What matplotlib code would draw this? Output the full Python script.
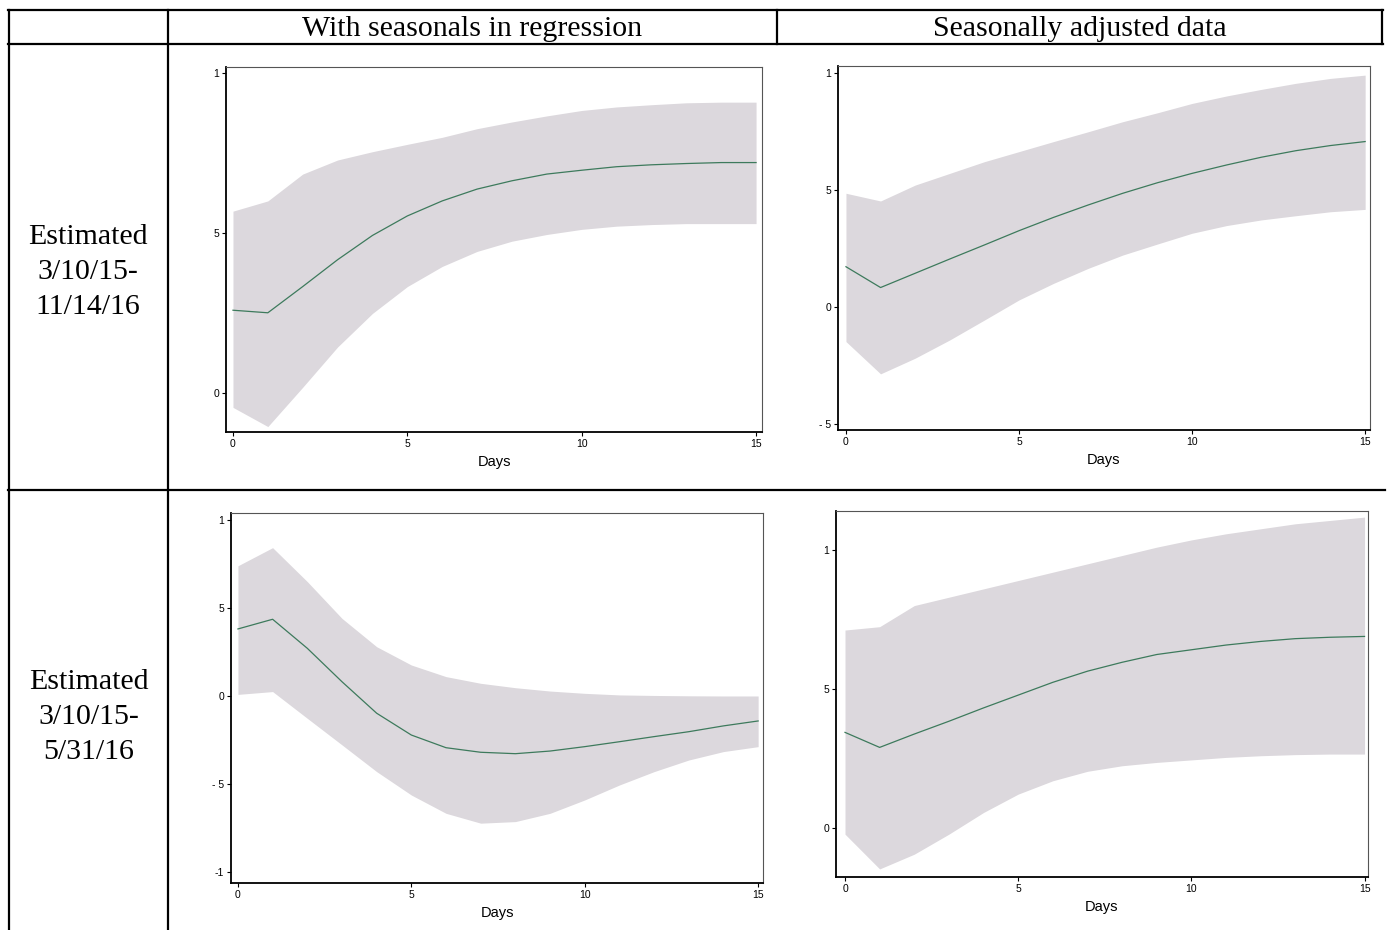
import numpy as np
import matplotlib
matplotlib.use('Agg')
import matplotlib.pyplot as plt
from matplotlib.lines import Line2D

days = np.arange(16)

# top left: with seasonals in regression, 3/10/15-11/14/16
tl_mid = [0.0259, 0.0251, 0.0333, 0.0417, 0.0493, 0.0554, 0.0601, 0.0638,
          0.0664, 0.0685, 0.0697, 0.0708, 0.0714, 0.0718, 0.0721, 0.0721]
tl_hi = [0.0569, 0.0601, 0.0685, 0.0729, 0.0755, 0.0778, 0.0800, 0.0827,
         0.0848, 0.0867, 0.0884, 0.0895, 0.0902, 0.0908, 0.0910, 0.0910]
tl_lo = [-0.0045, -0.0105, 0.0018, 0.0144, 0.0249, 0.0333, 0.0396, 0.0443,
         0.0475, 0.0496, 0.0512, 0.0522, 0.0527, 0.0530, 0.0530, 0.0530]

# top right: seasonally adjusted, 3/10/15-11/14/16
tr_mid = [0.0172, 0.0083, 0.0144, 0.0205, 0.0265, 0.0326, 0.0383, 0.0436,
          0.0486, 0.0531, 0.0571, 0.0607, 0.0640, 0.0668, 0.0690, 0.0707]
tr_hi = [0.0486, 0.0453, 0.0521, 0.0571, 0.0621, 0.0664, 0.0707, 0.0749,
         0.0792, 0.0830, 0.0870, 0.0902, 0.0930, 0.0956, 0.0977, 0.0991]
tr_lo = [-0.0148, -0.0286, -0.0219, -0.0141, -0.0056, 0.0030, 0.0101, 0.0165,
         0.0222, 0.0269, 0.0315, 0.0348, 0.0372, 0.0390, 0.0407, 0.0417]

# bottom left: with seasonals in regression, 3/10/15-5/31/16
bl_mid = [0.0381, 0.0436, 0.0271, 0.0081, -0.0098, -0.0222, -0.0294, -0.0320,
          -0.0328, -0.0313, -0.0288, -0.0260, -0.0231, -0.0203, -0.0170, -0.0142]
bl_hi = [0.0740, 0.0843, 0.0650, 0.0441, 0.0280, 0.0176, 0.0110, 0.0072,
         0.0047, 0.0028, 0.0015, 0.0006, 0.0003, 0.0001, 0.0, 0.0]
bl_lo = [0.0009, 0.0025, -0.0127, -0.0278, -0.0430, -0.0563, -0.0667, -0.0723,
         -0.0714, -0.0667, -0.0591, -0.0506, -0.0430, -0.0364, -0.0316, -0.0288]

# bottom right: seasonally adjusted, 3/10/15-5/31/16
br_mid = [0.0344, 0.0290, 0.0338, 0.0384, 0.0432, 0.0478, 0.0524, 0.0564,
          0.0596, 0.0624, 0.0641, 0.0658, 0.0671, 0.0681, 0.0686, 0.0689]
br_hi = [0.0712, 0.0724, 0.0800, 0.0830, 0.0860, 0.0890, 0.0920, 0.0950,
         0.0980, 0.1010, 0.1036, 0.1058, 0.1076, 0.1094, 0.1106, 0.1118]
br_lo = [-0.0022, -0.0147, -0.0094, -0.0022, 0.0056, 0.0122, 0.0170, 0.0204,
         0.0224, 0.0236, 0.0245, 0.0254, 0.0260, 0.0264, 0.0266, 0.0266]

col_titles = ['With seasonals in regression', 'Seasonally adjusted data']
row_titles = ['Estimated\n3/10/15-\n11/14/16', 'Estimated\n3/10/15-\n5/31/16']

x_ticks = [0, 5, 10, 15]
x_labels = ['0', '5', '10', '15']
y_ticks = [0.1, 0.05, 0, -0.05, -0.1]
y_labels = ['1', '5', '0', '- 5', '-1']

W, H = 1390, 930
fig = plt.figure(figsize=(13.9, 9.3), dpi=100)


def box(l, r, t, b):
    return [l / W, 1 - b / H, (r - l) / W, (b - t) / H]


panels = [
    (box(226, 762, 67, 432), tl_mid, tl_hi, tl_lo, (-0.0122, 0.102), (-0.2, 15.17)),
    (box(838, 1370, 66, 430), tr_mid, tr_hi, tr_lo, (-0.0526, 0.103), (-0.23, 15.14)),
    (box(231, 763, 513, 883), bl_mid, bl_hi, bl_lo, (-0.1063, 0.104), (-0.2, 15.14)),
    (box(836, 1368, 511, 877), br_mid, br_hi, br_lo, (-0.0176, 0.114), (-0.26, 15.1)),
]

for rect, mid, hi, lo, ylim, xlim in panels:
    ax = fig.add_axes(rect)
    ax.fill_between(days, lo, hi, color='#dcd8dd', linewidth=0)
    ax.plot(days, mid, color='#3d7a5c', lw=0.9)
    ax.set_xlim(xlim)
    ax.set_ylim(ylim)
    ax.set_xticks(x_ticks)
    ax.set_xticklabels(x_labels)
    ax.set_yticks([t for t in y_ticks if ylim[0] <= t <= ylim[1]])
    ax.set_yticklabels([l for t, l in zip(y_ticks, y_labels) if ylim[0] <= t <= ylim[1]])
    ax.tick_params(direction='out', length=3, width=0.8, labelsize=7.5, pad=2)
    ax.set_xlabel('Days', fontsize=10.5, labelpad=4, family='Liberation Sans')
    for s in ['left', 'bottom']:
        ax.spines[s].set_linewidth(1.3)
        ax.spines[s].set_color('black')
    for s in ['top', 'right']:
        ax.spines[s].set_linewidth(0.8)
        ax.spines[s].set_color('#555555')
    for lab in ax.get_xticklabels() + ax.get_yticklabels():
        lab.set_family('Liberation Sans')

# table frame
def hline(y, x0, x1):
    fig.add_artist(Line2D([x0 / W, x1 / W], [1 - y / H, 1 - y / H], color='black', lw=1.6))


def vline(x, y0, y1):
    fig.add_artist(Line2D([x / W, x / W], [1 - y0 / H, 1 - y1 / H], color='black', lw=1.6))


hline(10, 8, 1383)
hline(44, 8, 1383)
hline(490, 8, 1385)
vline(9, 10, 930)
vline(168, 10, 930)
vline(777, 10, 44)
vline(1382, 10, 44)

fig.text(472 / W, 1 - 29 / H, col_titles[0], ha='center', va='center',
         fontsize=21.5, family='Liberation Serif')
fig.text(1080 / W, 1 - 29 / H, col_titles[1], ha='center', va='center',
         fontsize=21.5, family='Liberation Serif')
fig.text(88 / W, 1 - 272 / H, row_titles[0], ha='center', va='center',
         fontsize=21.5, family='Liberation Serif', linespacing=1.45)
fig.text(89 / W, 1 - 717 / H, row_titles[1], ha='center', va='center',
         fontsize=21.5, family='Liberation Serif', linespacing=1.45)

plt.savefig('out.png', dpi=100)
